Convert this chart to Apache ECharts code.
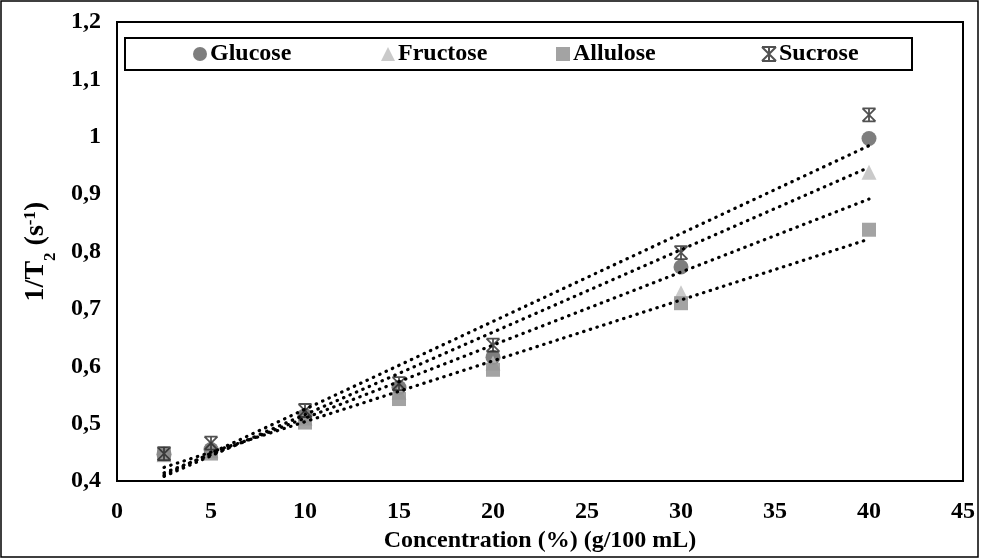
<!DOCTYPE html>
<html>
<head>
<meta charset="utf-8">
<script src="https://cdn.jsdelivr.net/npm/echarts@6/dist/echarts.min.js"></script>
<style>
  html, body { margin: 0; padding: 0; background: #fff; }
  #chart { width: 984px; height: 558px; }
</style>
</head>
<body>
<div id="chart"></div>
<script>
// concentrations (g/100 mL)
const concentrations = [2.5, 5, 10, 15, 20, 30, 40];
const glucose  = [0.447, 0.455, 0.514, 0.563, 0.616, 0.773, 0.997];
const fructose = [0.446, 0.453, 0.510, 0.555, 0.606, 0.728, 0.938];
const allulose = [0.446, 0.448, 0.502, 0.543, 0.594, 0.710, 0.838];
const sucrose  = [0.448, 0.466, 0.523, 0.570, 0.637, 0.798, 1.038];
const seriesNames = ['Glucose', 'Fructose', 'Allulose', 'Sucrose'];
const yTickLabels = ['0,4', '0,5', '0,6', '0,7', '0,8', '0,9', '1', '1,1', '1,2'];
const xTickLabels = ['0', '5', '10', '15', '20', '25', '30', '35', '40', '45'];

const FONT = '"Liberation Serif", "Times New Roman", serif';
const FS = 24;
const starPath = 'path://M0,0L10,0M0,10L10,10M0,0L10,10M10,0L0,10M5,0L5,10';

// least squares trendline (like Excel's linear trendline)
function trend(ys) {
  const n = ys.length;
  const mx = concentrations.reduce((a, b) => a + b, 0) / n;
  const my = ys.reduce((a, b) => a + b, 0) / n;
  let sxy = 0, sxx = 0;
  concentrations.forEach((x, i) => {
    sxy += (x - mx) * (ys[i] - my);
    sxx += (x - mx) * (x - mx);
  });
  const slope = sxy / sxx;
  const x0 = concentrations[0], x1 = concentrations[n - 1];
  return [[x0, my + slope * (x0 - mx)], [x1, my + slope * (x1 - mx)]];
}

const pts = ys => concentrations.map((x, i) => [x, ys[i]]);

const markers = [
  { name: 'Glucose', data: glucose, symbol: 'circle', symbolSize: 15, itemStyle: { color: '#5e5e5e' } },
  { name: 'Fructose', data: fructose, symbol: 'triangle', symbolSize: 15, itemStyle: { color: '#bdbdbd' } },
  { name: 'Allulose', data: allulose, symbol: 'rect', symbolSize: 14, itemStyle: { color: '#8c8c8c' } },
  { name: 'Sucrose', data: sucrose, symbol: starPath, symbolSize: 13,
    itemStyle: { color: 'rgba(0,0,0,0)', borderColor: '#262626', borderWidth: 1.8 } }
];

const series = [];
markers.forEach(m => {
  series.push({
    name: m.name,
    type: 'scatter',
    data: pts(m.data),
    symbol: m.symbol,
    symbolSize: m.symbolSize,
    itemStyle: m.itemStyle,
    z: 2
  });
});
markers.forEach(m => {
  series.push({
    name: m.name + ' trend',
    type: 'line',
    data: trend(m.data),
    symbol: 'none',
    silent: true,
    lineStyle: { color: '#000', width: 3.2, type: [0.5, 6.5], cap: 'round' },
    z: 3
  });
});

// one legend per item so the slots sit like the original
const legendLefts = [193, 381, 556, 761];
const legends = seriesNames.map((name, i) => ({
  data: [name],
  left: legendLefts[i], top: 42,
  padding: 0,
  itemWidth: 14, itemHeight: 14,
  textStyle: { fontFamily: FONT, fontWeight: 'bold', fontSize: FS, color: '#000', padding: [0, 0, 0, -2] }
}));

const chart = echarts.init(document.getElementById('chart'));
chart.setOption({
  animation: false,
  backgroundColor: '#fff',
  textStyle: { fontFamily: FONT },
  grid: {
    left: 117, right: 21, top: 22, bottom: 66,
    show: true, borderColor: '#000', borderWidth: 2
  },
  legend: legends,
  xAxis: {
    type: 'value',
    min: 0, max: 45, interval: 5,
    axisLine: { show: false },
    axisTick: { show: false },
    splitLine: { show: false },
    axisLabel: {
      margin: 19,
      fontFamily: FONT, fontWeight: 'bold', fontSize: FS, color: '#000',
      formatter: v => xTickLabels[Math.round(v / 5)]
    },
    name: 'Concentration (%) (g/100 mL)',
    nameLocation: 'middle',
    nameGap: 39,
    nameTextStyle: { fontFamily: FONT, fontWeight: 'bold', fontSize: FS, color: '#000' }
  },
  yAxis: {
    type: 'value',
    min: 0.4, max: 1.2, interval: 0.1,
    axisLine: { show: false },
    axisTick: { show: false },
    splitLine: { show: false },
    axisLabel: {
      margin: 16,
      fontFamily: FONT, fontWeight: 'bold', fontSize: FS, color: '#000',
      formatter: v => yTickLabels[Math.round((v - 0.4) * 10)]
    },
    name: '{a|1/T}{sub|2}{a| (s}{sup|-1}{a|)}',
    nameLocation: 'middle',
    nameGap: 64,
    nameTextStyle: {
      rich: {
        a: { fontFamily: FONT, fontWeight: 'bold', fontSize: 28, color: '#000', lineHeight: 34 },
        sub: { fontFamily: FONT, fontWeight: 'bold', fontSize: 17, color: '#000', lineHeight: 34, verticalAlign: 'bottom', padding: [0, 0, -6, 0] },
        sup: { fontFamily: FONT, fontWeight: 'bold', fontSize: 17, color: '#000', lineHeight: 34, verticalAlign: 'top', padding: [3, 0, 0, 0] }
      }
    }
  },
  graphic: [{
    type: 'rect',
    shape: { x: 1, y: 1, width: 977, height: 556 },
    style: { fill: 'none', stroke: '#000', lineWidth: 1.5 },
    z: -1
  }, {
    type: 'rect',
    shape: { x: 125, y: 38, width: 787, height: 32 },
    style: { fill: '#fff', stroke: '#000', lineWidth: 2 },
    z: 0
  }],
  series: series
});
window.addEventListener('resize', () => chart.resize());
</script>
</body>
</html>
